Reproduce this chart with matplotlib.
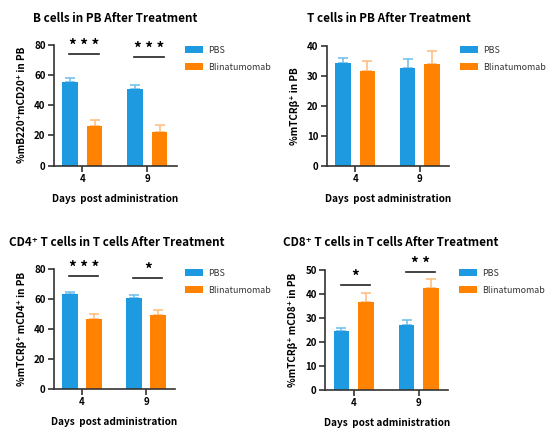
import matplotlib
matplotlib.use("Agg")
import matplotlib.pyplot as plt
import numpy as np

plt.rcParams['font.family'] = ['Noto Sans CJK SC', 'DejaVu Sans']

days = ["4", "9"]
groups = ["PBS", "Blinatumomab"]

# per panel: means / upper SEM for PBS and Blinatumomab at days 4, 9
b_pbs, b_pbs_err = [55.6, 50.9], [2.4, 2.6]
b_bli, b_bli_err = [26.4, 22.5], [4.1, 4.3]
t_pbs, t_pbs_err = [34.3, 32.5], [1.5, 3.0]
t_bli, t_bli_err = [31.7, 33.8], [3.3, 4.5]
cd4_pbs, cd4_pbs_err = [63.2, 60.8], [1.5, 1.7]
cd4_bli, cd4_bli_err = [46.4, 49.1], [3.5, 3.5]
cd8_pbs, cd8_pbs_err = [24.4, 26.9], [1.3, 2.1]
cd8_bli, cd8_bli_err = [36.5, 42.3], [4.0, 3.7]

# significance marks: (label, line height) per day
b_sig = [("***", 73.9), ("***", 72.3)]
cd4_sig = [("***", 75.1), ("*", 73.8)]
cd8_sig = [("*", 43.6), ("**", 49.0)]

BLUE, ORANGE = "#1e9ae0", "#ff8200"
BLUE_E, ORANGE_E = "#6cbdeb", "#ffbb7a"

panels = [
    dict(rect=[0.098, 0.620, 0.223, 0.277], title="B cells in PB After Treatment", tx=33, ty=18,
         ylabel="%mB220⁺mCD20⁺ in PB", ymax=80, step=20,
         pbs=(b_pbs, b_pbs_err), bli=(b_bli, b_bli_err), sig=b_sig, leg=(186, 50)),
    dict(rect=[0.594, 0.619, 0.222, 0.276], title="T cells in PB After Treatment", tx=307, ty=18,
         ylabel="%mTCRβ⁺ in PB", ymax=40, step=10,
         pbs=(t_pbs, t_pbs_err), bli=(t_bli, t_bli_err), sig=[], leg=(461, 50)),
    dict(rect=[0.098, 0.108, 0.220, 0.275], title="CD4⁺ T cells in T cells After Treatment", tx=9, ty=242,
         ylabel="%mTCRβ⁺ mCD4⁺ in PB", ymax=80, step=20,
         pbs=(cd4_pbs, cd4_pbs_err), bli=(cd4_bli, cd4_bli_err), sig=cd4_sig, leg=(186, 273)),
    dict(rect=[0.591, 0.1055, 0.224, 0.276], title="CD8⁺ T cells in T cells After Treatment", tx=283, ty=242,
         ylabel="%mTCRβ⁺ mCD8⁺ in PB", ymax=50, step=10,
         pbs=(cd8_pbs, cd8_pbs_err), bli=(cd8_bli, cd8_bli_err), sig=cd8_sig, leg=(460, 273)),
]

W, H = 550, 436
fig = plt.figure(figsize=(W / 100, H / 100), dpi=100)
x = np.arange(len(days))
bw, off = 0.24, 0.188
for p in panels:
    ax = fig.add_axes(p["rect"])
    for (vals, err), dx, c, ec, lab in [(p["pbs"], -off, BLUE, BLUE_E, groups[0]),
                                        (p["bli"], off, ORANGE, ORANGE_E, groups[1])]:
        ax.bar(x + dx, vals, width=bw, color=c, label=lab, zorder=2)
        ax.errorbar(x + dx, vals, yerr=[np.zeros(len(vals)), err], fmt="none",
                    ecolor=ec, elinewidth=1.1, capsize=3.5, capthick=1.1, zorder=1)
    for i, (lab, h) in enumerate(p["sig"]):
        ax.plot([x[i] - 0.2, x[i] + 0.25], [h, h], color="#222222", lw=1.2, clip_on=False)
        ax.annotate(" ".join(lab), (x[i] + 0.025, h), xytext=(0, 0), textcoords="offset points",
                    ha="center", va="bottom", fontsize=11, fontweight="bold", annotation_clip=False)
    ax.set_xlim(-0.44, 1.45)
    ax.set_ylim(0, p["ymax"])
    ax.set_yticks(np.arange(0, p["ymax"] + 1, p["step"]))
    ax.set_xticks(x)
    ax.set_xticklabels(days)
    for s in ["top", "right"]:
        ax.spines[s].set_visible(False)
    for s in ["left", "bottom"]:
        ax.spines[s].set_linewidth(1.2)
        ax.spines[s].set_color("#333333")
    ax.tick_params(length=4, width=1.2, color="#333333", labelsize=7, pad=2)
    for t in ax.get_xticklabels() + ax.get_yticklabels():
        t.set_fontweight("bold")
    ax.set_xlabel("Days  post administration", fontsize=7.2, fontweight="bold", labelpad=7)
    ax.set_ylabel(p["ylabel"], fontsize=7.2, fontweight="bold", labelpad=5)
    fig.text(p["tx"] / W, 1 - p["ty"] / H, p["title"], fontsize=8.4, fontweight="bold",
             ha="left", va="center")
    lx, ly = p["leg"]
    ax.legend(loc="upper left", bbox_to_anchor=(lx / W - 0.008, 1 - (ly - 8) / H),
              bbox_transform=fig.transFigure, frameon=False, fontsize=6.4,
              labelcolor="#333333", handlelength=2.0, handleheight=0.7, handletextpad=0.6,
              labelspacing=0.9, borderaxespad=0)

fig.savefig("out.png", dpi=100)
